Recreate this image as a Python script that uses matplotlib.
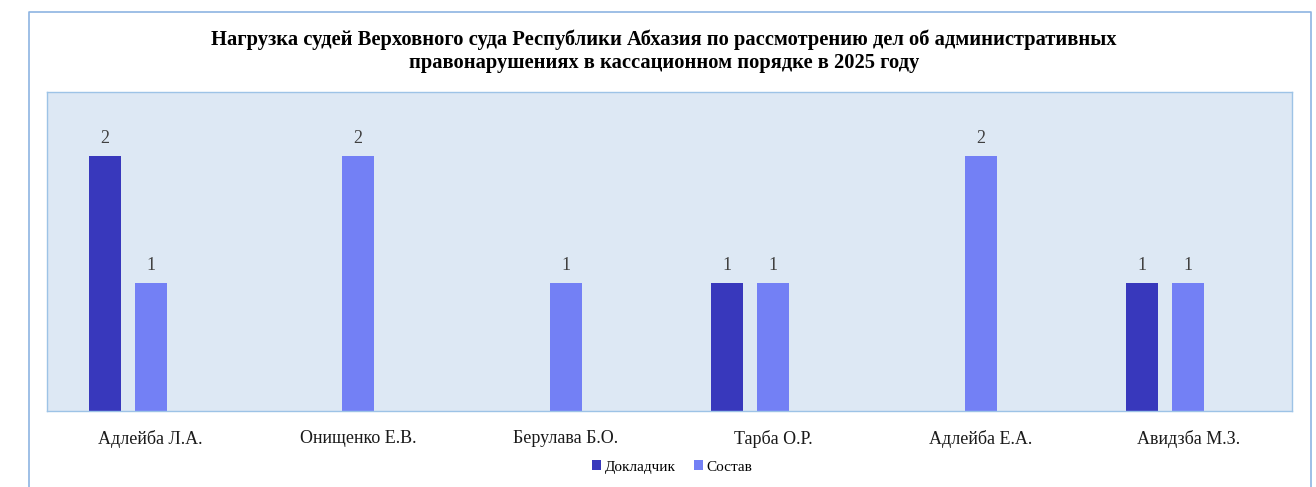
import matplotlib.pyplot as plt
import numpy as np
from matplotlib.lines import Line2D

judges = ["Адлейба Л.А.", "Онищенко Е.В.", "Берулава Б.О.", "Тарба О.Р.", "Адлейба Е.А.", "Авидзба М.З."]
reporter = [2, 0, 0, 1, 0, 1]
panel = [1, 2, 1, 1, 2, 1]

plt.rcParams['font.family'] = ['Liberation Serif', 'DejaVu Serif']

W, H = 1316, 487
fig = plt.figure(figsize=(W / 100, H / 100), dpi=100)
fig.patch.set_facecolor('white')

# outer chart frame (bottom edge runs off the page)
fx0, fx1, fy = 28.5 / W, 1310.5 / W, 1 - 11.5 / H
fig.add_artist(Line2D([fx0, fx0, fx1, fx1], [0, fy, fy, 0], transform=fig.transFigure,
                      color='#8db4e2', lw=1.2))

ax = fig.add_axes([47 / W, 1 - 411 / H, 1245 / W, 319 / H])
ax.set_facecolor('#dde8f4')
for s in ax.spines.values():
    s.set_color('#9dc3e6')
    s.set_linewidth(1)

x = np.arange(len(judges))
bw = 0.154
dark, light = '#3838bc', '#7380f5'
b1 = ax.bar(x - 0.222, reporter, bw, color=dark, label='Докладчик')
b2 = ax.bar(x, panel, bw, color=light, label='Состав')

for bars, vals in ((b1, reporter), (b2, panel)):
    for r, v in zip(bars, vals):
        if v:
            ax.text(r.get_x() + r.get_width() / 2, v + 0.07, str(v), ha='center', va='bottom',
                    fontsize=13, color='#404040')

ax.set_xlim(-0.5, len(judges) - 0.5)
ax.set_ylim(0, 2.5)
ax.set_yticks([])
ax.set_xticks(x)
ax.set_xticklabels(judges, fontsize=13, color='#1a1a1a')
ax.tick_params(axis='x', length=0, pad=14)

fig.text(664 / W, 1 - 51.5 / H, "Нагрузка судей Верховного суда Республики Абхазия по рассмотрению дел об административных\n"
         "правонарушениях в кассационном порядке в 2025 году",
         ha='center', va='center', fontsize=14.8, fontweight='bold', linespacing=1.2)

fig.legend(handles=[b1, b2], loc='center', bbox_to_anchor=(672 / W, 1 - 467 / H), ncol=2,
           frameon=False, fontsize=11, handlelength=0.6, handleheight=0.6, handletextpad=0.2,
           columnspacing=1.2)

fig.savefig('out.png', dpi=100)
